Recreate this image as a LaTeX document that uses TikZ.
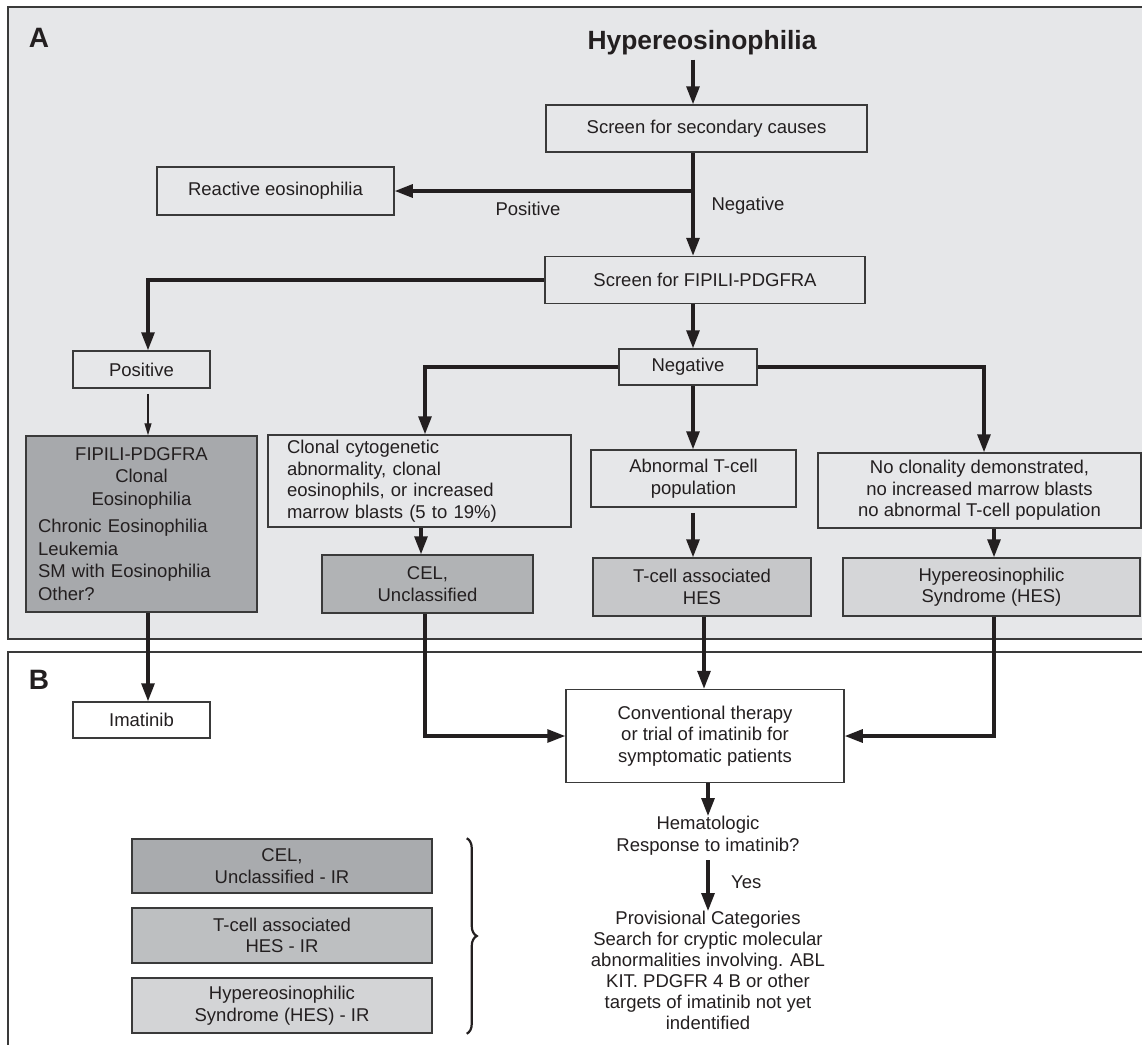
\documentclass[tikz,border=0pt]{standalone}
\usepackage{fontspec}
\setmainfont{Liberation Sans}
\usetikzlibrary{arrows.meta,decorations.pathreplacing,calc}
\definecolor{panelA}{HTML}{E6E7E9}
\definecolor{dkc}{HTML}{A7A9AC}
\definecolor{celc}{HTML}{B1B3B5}
\definecolor{thesc}{HTML}{C6C7C9}
\definecolor{hesc}{HTML}{D5D6D8}
\definecolor{irac}{HTML}{A9ABAE}
\definecolor{irbc}{HTML}{BDBFC1}
\definecolor{ircc}{HTML}{D3D4D6}
\definecolor{ink}{HTML}{231F20}
\definecolor{edgec}{HTML}{3A3A3A}
\newcommand{\fs}{\fontsize{18.5}{21.5}\selectfont}
\newcommand{\clin}[1]{\makebox[207pt][c]{#1}}
\begin{document}
\begin{tikzpicture}[x=1pt,y=-1pt,
  box/.style={draw=edgec,line width=1.5pt,inner sep=0pt,align=center,font=\fs,text=ink},
  arr/.style={draw=ink,line width=3.1pt,-{Triangle[length=18pt,width=13pt]}},
  thinarr/.style={draw=ink,line width=1.2pt,-{Triangle[length=12pt,width=7pt]}},
  lbl/.style={font=\fs,text=ink,inner sep=0pt,align=center},
  plabel/.style={font=\bfseries\fontsize{28}{28}\selectfont,text=ink,inner sep=0pt}]
\useasboundingbox (0,0) rectangle (1142,1044);
\clip (0,0) rectangle (1142,1044);
% panels
\draw[edgec,line width=1.5pt,fill=panelA] (8,7) rectangle (1160,639);
\draw[edgec,line width=1.5pt,fill=white] (8,652) rectangle (1160,1060);
\node[plabel] (labA) at (39,38) {A};
\node[plabel] (labB) at (39,680) {B};
% column coordinates
\coordinate (cx) at (693,0);
\coordinate (cp) at (148,0);
\coordinate (ccl) at (425,0);
\coordinate (ccel) at (421,0);
\coordinate (cr) at (984,0);
\coordinate (chs) at (994,0);
\coordinate (cth) at (704,0);
\coordinate (cv) at (708,0);
% nodes panel A
\node[lbl,font=\bfseries\fontsize{26.4}{28}\selectfont] (hyp) at (702,43) {Hypereosinophilia};
\node[box,minimum width=321pt,minimum height=47pt] (sec) at (706.5,128.5) {Screen for secondary causes};
\node[box,minimum width=237pt,minimum height=48pt] (react) at (275.5,191) {Reactive eosinophilia};
\node[lbl] (lpos) at (528,209) {Positive};
\node[lbl] (lneg) at (748,206) {Negative};
\node[box,minimum width=320pt,minimum height=47pt] (fip) at (705,280) {Screen for FIPILI-PDGFRA};
\node[box,minimum width=137pt,minimum height=37pt] (pos) at (141.5,369.5) {Positive};
\node[box,minimum width=138pt,minimum height=36pt] (neg) at (688,367) {Negative};
\node[box,fill=dkc,minimum height=176pt,text width=207pt,inner xsep=12pt,align=left,
      font=\fontsize{18.5}{22.5}\selectfont] (fipbox) at (141.5,524)
  {\clin{FIPILI-PDGFRA}\\ \clin{Clonal}\\ \clin{Eosinophilia}\\[5pt]
   Chronic Eosinophilia\\ Leukemia\\ SM with Eosinophilia\\ Other?};
\node[box,minimum height=92pt,text width=265pt,inner xsep=19pt,align=left] (clonal) at (419.5,481)
  {Clonal cytogenetic\\ abnormality, clonal\\ eosinophils, or increased\\ marrow blasts (5 to 19\%)};
\node[box,minimum width=205pt,minimum height=57pt] (abn) at (693.5,478.5) {Abnormal T-cell\\ population};
\node[box,minimum width=323pt,minimum height=75pt] (noclon) at (979.5,490.5)
  {No clonality demonstrated,\\ no increased marrow blasts\\ no abnormal T-cell population};
\node[box,fill=celc,minimum width=211pt,minimum height=58pt] (cel) at (427.5,584) {CEL,\\ Unclassified};
\node[box,fill=thesc,minimum width=218pt,minimum height=58pt] (thes) at (702,587) {T-cell associated\\ HES};
\node[box,fill=hesc,minimum width=297pt,minimum height=58pt] (hes) at (991.5,587) {Hypereosinophilic\\ Syndrome (HES)};
% nodes panel B
\node[box,fill=white,minimum width=137pt,minimum height=36pt] (imat) at (141.5,720) {Imatinib};
\node[box,fill=white,minimum width=278pt,minimum height=93pt] (conv) at (705,736) {Conventional therapy\\ or trial of imatinib for\\ symptomatic patients};
\node[lbl,anchor=north] (hem) at (708,816) {Hematologic\\ Response to imatinib?};
\node[lbl,anchor=west] (yes) at (731,882) {Yes};
\node[lbl,anchor=north,font=\fontsize{18.5}{21}\selectfont] (prov) at (708,911)
  {Provisional Categories\\ Search for cryptic molecular\\ abnormalities involving. ABL\\ KIT. PDGFR 4 B or other\\ targets of imatinib not yet\\ indentified};
\node[box,fill=irac,minimum width=300pt,minimum height=54pt] (ira) at (282,866) {CEL,\\ Unclassified - IR};
\node[box,fill=irbc,minimum width=300pt,minimum height=55pt] (irb) at (282,935.5) {T-cell associated\\ HES - IR};
\node[box,fill=ircc,minimum width=300pt,minimum height=55pt] (irc) at (282,1005.5) {Hypereosinophilic\\ Syndrome (HES) - IR};
\draw[ink,line width=2.2pt,decorate,decoration={brace,amplitude=10pt}]
  ($(ira.north east)+(34,0)$) -- ($(irc.south east)+(34,0)$);
% connectors
\draw[arr] ($(hyp.south -| cx)+(0,4)$) -- (sec.north -| cx);
\draw[arr] (sec.south -| cx) |- (react.east);
\draw[arr] (sec.south -| cx) -- (fip.north -| cx);
\draw[arr] (fip.west) -| (pos.north -| cp);
\draw[thinarr] ($(pos.south -| cp)+(0,5)$) -- (fipbox.north -| cp);
\draw[arr] (fipbox.south -| cp) -- (imat.north -| cp);
\draw[arr] (fip.south -| cx) -- (neg.north -| cx);
\draw[arr] (neg.west) -| (clonal.north -| ccl);
\draw[arr] (neg.south -| cx) -- (abn.north -| cx);
\draw[arr] (neg.east) -| (noclon.north -| cr);
\draw[arr] (clonal.south -| ccel) -- (cel.north -| ccel);
\draw[arr] ($(abn.south -| cx)+(0,5)$) -- (thes.north -| cx);
\draw[arr] (noclon.south -| chs) -- (hes.north -| chs);
\draw[arr] (cel.south -| ccl) |- (conv.west);
\draw[arr] (thes.south -| cth) -- (conv.north -| cth);
\draw[arr] (hes.south -| chs) |- (conv.east);
\draw[arr] (conv.south -| cv) -- (hem.north -| cv);
\draw[arr] ($(hem.south -| cv)+(0,5)$) -- (prov.north -| cv);
\end{tikzpicture}
\end{document}
